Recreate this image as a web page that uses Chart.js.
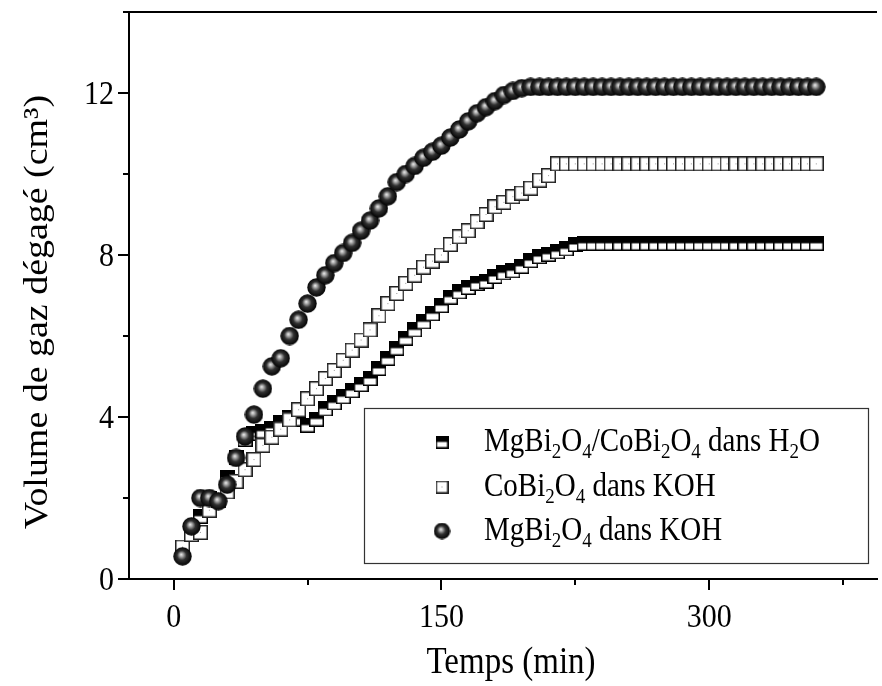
<!DOCTYPE html>
<html>
<head>
<meta charset="utf-8">
<script src="https://cdn.jsdelivr.net/npm/chart.js@4.4.0/dist/chart.umd.min.js"></script>
<style>
  html, body { margin: 0; padding: 0; background: #fff; }
  #wrap { width: 882px; height: 686px; }
</style>
</head>
<body>
<div id="wrap"><canvas id="c" width="882" height="686"></canvas></div>
<script>
// Sampling times (min)
const minutes = [5,10,15,20,25,30,35,40,45,50,55,60,65,70,75,80,85,90,95,100,
  105,110,115,120,125,130,135,140,145,150,155,160,165,170,175,180,185,190,195,200,
  205,210,215,220,225,230,235,240,245,250,255,260,265,270,275,280,285,290,295,300,
  305,310,315,320,325,330,335,340,345,350,355,360];

// Gas volume (cm3) — MgBi2O4/CoBi2O4 in water
const mixH2O = [0.70,1.10,1.55,2.00,1.95,2.50,3.00,3.45,3.60,3.65,3.72,3.87,4.00,3.95,3.80,3.95,4.20,4.35,4.50,4.65,
  4.80,4.95,5.20,5.45,5.70,5.95,6.15,6.35,6.55,6.75,6.96,7.09,7.20,7.30,7.35,7.47,7.56,7.61,7.72,7.86,
  7.96,8.02,8.08,8.15,8.26,8.29,8.29,8.29,8.29,8.29,8.29,8.29,8.29,8.29,8.29,8.29,8.29,8.29,8.29,8.29,
  8.29,8.29,8.29,8.29,8.29,8.29,8.29,8.29,8.29,8.29,8.29,8.29];

// Gas volume (cm3) — CoBi2O4 in KOH
const coKOH = [0.79,1.10,1.15,1.70,1.95,2.15,2.41,2.70,2.95,3.30,3.50,3.70,3.93,4.18,4.45,4.70,4.95,5.15,5.40,5.65,
  5.90,6.15,6.50,6.80,7.05,7.30,7.50,7.70,7.85,8.00,8.26,8.45,8.60,8.82,9.00,9.19,9.30,9.44,9.53,9.65,
  9.85,9.96,10.25,10.25,10.25,10.25,10.25,10.25,10.25,10.25,10.25,10.25,10.25,10.25,10.25,10.25,10.25,10.25,10.25,10.25,
  10.25,10.25,10.25,10.25,10.25,10.25,10.25,10.25,10.25,10.25,10.25,10.25];

// Gas volume (cm3) — MgBi2O4 in KOH
const mgKOH = [0.56,1.30,2.00,2.00,1.92,2.33,2.99,3.52,4.06,4.70,5.25,5.45,6.00,6.40,6.80,7.20,7.50,7.80,8.05,8.30,
  8.60,8.85,9.15,9.45,9.80,10.00,10.20,10.40,10.55,10.70,10.90,11.10,11.30,11.50,11.65,11.80,11.95,12.05,12.12,12.15,
  12.15,12.15,12.15,12.15,12.15,12.15,12.15,12.15,12.15,12.15,12.15,12.15,12.15,12.15,12.15,12.15,12.15,12.15,12.15,12.15,
  12.15,12.15,12.15,12.15,12.15,12.15,12.15,12.15,12.15,12.15,12.15,12.15];

// Axis ticks
const xTicks = [0, 75, 150, 225, 300, 375];
const xLabelled = [0, 150, 300];
const yTicks = [0, 2, 4, 6, 8, 10, 12, 14];
const yLabelled = [0, 4, 8, 12];

const xTitle = 'Temps (min)';
const yTitle = 'Volume de gaz dégagé (cm³)';

// Legend entries: [text, subscript] runs
const legendRuns = [
  [['MgBi',0],['2',1],['O',0],['4',1],['/CoBi',0],['2',1],['O',0],['4',1],[' dans H',0],['2',1],['O',0]],
  [['CoBi',0],['2',1],['O',0],['4',1],[' dans KOH',0]],
  [['MgBi',0],['2',1],['O',0],['4',1],[' dans KOH',0]]
];

const SERIF = "'Liberation Serif', 'Times New Roman', serif";
const STRETCH = 1.15; // tall, narrow type

// ---- marker sprites ----
function halfSquare(s) {
  const c = document.createElement('canvas'); c.width = c.height = s;
  const g = c.getContext('2d');
  g.fillStyle = '#fff'; g.fillRect(0, 0, s, s);
  g.fillStyle = '#000'; g.fillRect(0, 0, s, s / 2);
  g.strokeStyle = '#000'; g.lineWidth = 1.5; g.strokeRect(0.75, 0.75, s - 1.5, s - 1.5);
  return c;
}
function openSquare(s) {
  const c = document.createElement('canvas'); c.width = c.height = s;
  const g = c.getContext('2d');
  g.fillStyle = '#fff'; g.fillRect(0, 0, s, s);
  g.strokeStyle = '#222'; g.lineWidth = 1.5; g.strokeRect(0.75, 0.75, s - 1.5, s - 1.5);
  g.fillStyle = '#999'; g.fillRect(Math.floor(s / 2), Math.floor(s / 2), 1, 1);
  return c;
}
function sphere(d) {
  const c = document.createElement('canvas'); c.width = c.height = d;
  const g = c.getContext('2d');
  const r = d / 2;
  const grd = g.createRadialGradient(r * 0.85, r * 0.8, 0, r, r, r);
  grd.addColorStop(0, '#f2f2f2');
  grd.addColorStop(0.2, '#a8a8a8');
  grd.addColorStop(0.5, '#303030');
  grd.addColorStop(1, '#000');
  g.fillStyle = grd;
  g.beginPath(); g.arc(r, r, r - 0.3, 0, Math.PI * 2); g.fill();
  return c;
}
const mkHalf = halfSquare(15), mkOpen = openSquare(15), mkBall = sphere(19);
const legendMarks = [halfSquare(13), openSquare(13), sphere(17)];

const pts = (ys) => minutes.map((t, i) => ({ x: t, y: ys[i] }));

// text drawn with a vertical stretch (in its own frame)
function tallText(ctx, txt, x, y, size, align, rot) {
  ctx.save();
  ctx.translate(x, y);
  if (rot) ctx.rotate(rot);
  if (rot) ctx.scale(STRETCH, 1); else ctx.scale(1, STRETCH);
  ctx.font = size + 'px ' + SERIF;
  ctx.textAlign = align;
  ctx.textBaseline = 'alphabetic';
  ctx.fillStyle = '#000';
  ctx.fillText(txt, 0, 0);
  ctx.restore();
}

// ---- axis ticks, labels, titles, top frame line and legend ----
const framePlugin = {
  id: 'frame',
  afterDraw(chart) {
    const { ctx, chartArea: a, scales: { x, y } } = chart;
    ctx.save();
    ctx.strokeStyle = '#000'; ctx.lineWidth = 2;
    ctx.beginPath();
    ctx.moveTo(a.left - 1, a.top); ctx.lineTo(a.right, a.top);
    xTicks.forEach(v => {
      const px = Math.round(x.getPixelForValue(v));
      const len = xLabelled.includes(v) ? 11 : 6;
      ctx.moveTo(px, a.bottom); ctx.lineTo(px, a.bottom + len);
    });
    yTicks.forEach(v => {
      const py = Math.round(y.getPixelForValue(v));
      const len = yLabelled.includes(v) ? 11 : 6;
      ctx.moveTo(a.left, py); ctx.lineTo(a.left - len, py);
    });
    ctx.stroke();

    xLabelled.forEach(v => tallText(ctx, String(v), x.getPixelForValue(v), a.bottom + 48, 30, 'center'));
    yLabelled.forEach(v => tallText(ctx, String(v), a.left - 15, y.getPixelForValue(v) + 11, 30, 'right'));
    tallText(ctx, xTitle, 511, 673, 33, 'center');
    tallText(ctx, yTitle, 47, 312, 33, 'center', -Math.PI / 2);

    // legend box
    const bx = 364, by = 408, bw = 504, bh = 155;
    ctx.fillStyle = '#fff'; ctx.fillRect(bx, by, bw, bh);
    ctx.strokeStyle = '#333'; ctx.lineWidth = 1.2;
    ctx.strokeRect(bx + 0.5, by + 0.5, bw, bh);
    const rowY = [451, 496, 540];
    legendRuns.forEach((runs, i) => {
      const m = legendMarks[i];
      ctx.drawImage(m, 442 - m.width / 2, rowY[i] - 9 - m.height / 2);
      let cx = 484;
      runs.forEach(([txt, sub]) => {
        const size = sub ? 19 : 29;
        ctx.font = size + 'px ' + SERIF;
        const w = ctx.measureText(txt).width;
        tallText(ctx, txt, cx, rowY[i] + (sub ? 7 : 0), size, 'left');
        cx += w;
      });
    });
    ctx.restore();
  }
};

new Chart(document.getElementById('c'), {
  type: 'scatter',
  data: {
    datasets: [
      { label: 'MgBi2O4/CoBi2O4 dans H2O', data: pts(mixH2O), pointStyle: mkHalf, order: 2 },
      { label: 'CoBi2O4 dans KOH', data: pts(coKOH), pointStyle: mkOpen, order: 1 },
      { label: 'MgBi2O4 dans KOH', data: pts(mgKOH), pointStyle: mkBall, order: 0 }
    ]
  },
  options: {
    responsive: false,
    devicePixelRatio: 1,
    animation: false,
    layout: { padding: { top: 12, right: 0, left: 0, bottom: 0 } },
    plugins: { legend: { display: false }, tooltip: { enabled: false } },
    scales: {
      x: {
        type: 'linear', min: -25, max: 394,
        afterBuildTicks: s => { s.ticks = xTicks.map(v => ({ value: v })); },
        afterFit: s => { s.height = 107; s.paddingLeft = 0; s.paddingRight = 0; },
        ticks: { display: false },
        grid: { display: false },
        border: { display: true, color: '#000', width: 2 }
      },
      y: {
        type: 'linear', min: 0, max: 14,
        afterBuildTicks: s => { s.ticks = yTicks.map(v => ({ value: v })); },
        afterFit: s => { s.width = 129; s.paddingTop = 0; s.paddingBottom = 0; },
        ticks: { display: false },
        grid: { display: false },
        border: { display: true, color: '#000', width: 2 }
      }
    }
  },
  plugins: [framePlugin]
});
</script>
</body>
</html>
